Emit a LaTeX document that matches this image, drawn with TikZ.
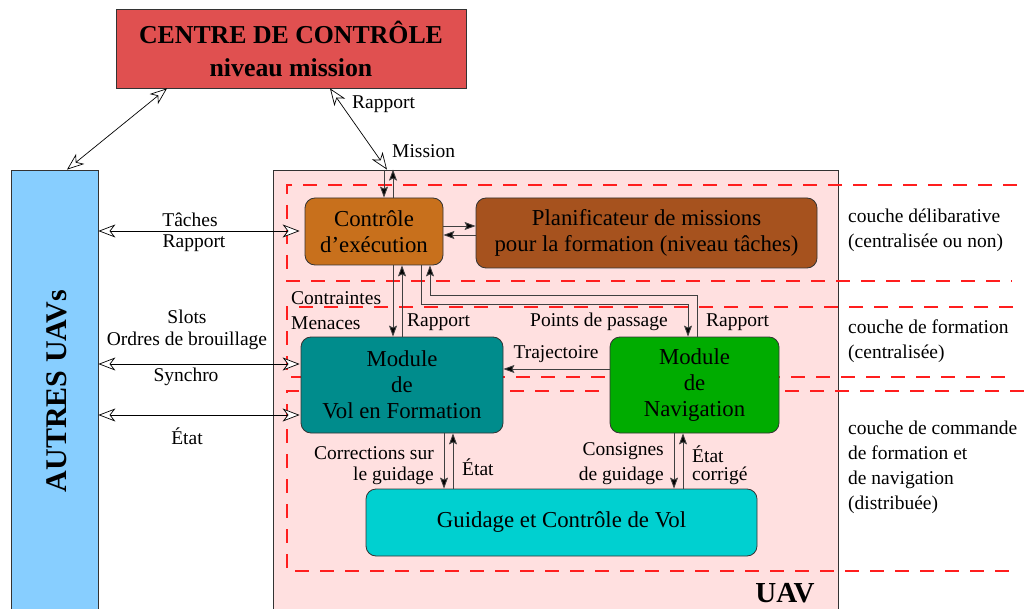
\documentclass[tikz,border=0pt]{standalone}
\usepackage{fontspec}
\setmainfont{Liberation Serif}
\usetikzlibrary{arrows.meta,calc}
\definecolor{centrec}{RGB}{224,80,80}
\definecolor{autresc}{RGB}{135,206,255}
\definecolor{uavc}{RGB}{255,224,224}
\definecolor{ctrlc}{RGB}{200,112,28}
\definecolor{planc}{RGB}{166,82,30}
\definecolor{volc}{RGB}{0,140,140}
\definecolor{navc}{RGB}{0,172,0}
\definecolor{guidc}{RGB}{0,208,208}
\definecolor{dashc}{RGB}{255,30,30}
\begin{document}
\begin{tikzpicture}[x=1pt,y=-1pt,
  box/.style={draw=black!80, line width=0.8pt, rounded corners=10pt, align=center, inner sep=0pt, font=\fontsize{22.8}{26}\selectfont},
  bigbox/.style={draw=black!80, line width=0.8pt, inner sep=0pt},
  lbl/.style={font=\fontsize{19.5}{24}\selectfont, inner sep=0pt},
  side/.style={font=\fontsize{19.5}{24.8}\selectfont, inner sep=0pt, align=left, anchor=north west},
  dbl/.style={draw=black, line width=0.7pt, {Stealth[fill=white,length=17pt,width=13pt,inset=5pt]}-{Stealth[fill=white,length=17pt,width=13pt,inset=5pt]}},
  sarr/.style={draw=black!75, line width=0.9pt, -{Stealth[length=11pt,width=8pt,inset=2pt,fill=black]}},
  layer/.style={draw=dashc, line width=1.6pt, dash pattern=on 14pt off 11pt},
]
\useasboundingbox (0,0) rectangle (1024,609);

% big containers
\node[bigbox, fill=uavc, minimum width=565pt, minimum height=445pt] (uav) at (555.5,392.5) {};
\node[bigbox, fill=autresc, minimum width=87pt, minimum height=442pt] (autres) at (54.5,391) {};
\node[rotate=90, inner sep=0pt, font=\bfseries\fontsize{30}{30}\selectfont] (autrestxt) at (57,391) {AUTRES UAVs};
\node[bigbox, fill=centrec, minimum width=350pt, minimum height=79pt, align=center] (centre) at (291,48.5) {};
\node[inner sep=0pt, font=\bfseries\fontsize{25.8}{33}\selectfont, align=center] (centretxt) at (291,49) {CENTRE DE CONTRÔLE\\niveau mission};

% layers (dashed)
\draw[layer] (1017,185) -- (287,185) -- (287,281) -- (1012,281);
\draw[layer] (1013,307) -- (287,307) -- (287,377) -- (1012,377);
\draw[layer] (1024,391) -- (287,391) -- (287,571) -- (1012,571);

% inner boxes
\node[box, fill=ctrlc, minimum width=138pt, minimum height=67pt] (ctrl) at (374,231.5) {Contrôle\\d’exécution};
\node[box, fill=planc, minimum width=341pt, minimum height=70pt] (plan) at (646.5,233) {Planificateur de missions\\pour la formation (niveau tâches)};
\node[box, fill=volc, minimum width=202pt, minimum height=96pt] (vol) at (402,385) {Module\\de\\Vol en Formation};
\node[box, fill=navc, minimum width=169pt, minimum height=96pt] (nav) at (694.5,385) {Module\\de\\Navigation};
\node[box, fill=guidc, minimum width=391pt, minimum height=67pt] (guid) at (561.5,522.5) {Guidage et Contrôle de Vol};

\node[inner sep=0pt, font=\bfseries\fontsize{29}{29}\selectfont] (uavtxt) at (785,593) {UAV};

% external arrows
\draw[dbl] (167,0 |- centre.south) -- (67,0 |- autres.north);
\draw[dbl] (330,0 |- centre.south) -- (387,0 |- uav.north);
\draw[dbl] (autres.east |- 0,231) -- ([xshift=-5pt]ctrl.west |- 0,231);
\draw[dbl] (autres.east |- 0,364) -- ([xshift=-1pt]vol.west |- 0,364);
\draw[dbl] (autres.east |- 0,415) -- ([xshift=-1pt]vol.west |- 0,415);

% internal arrows
\draw[sarr] (384,0 |- uav.north) -- (384,0 |- ctrl.north);
\draw[sarr] (393,0 |- ctrl.north) -- (393,0 |- uav.north);
\draw[sarr] (ctrl.east |- 0,226) -- (plan.west |- 0,226);
\draw[sarr] (plan.west |- 0,235) -- (ctrl.east |- 0,235);
\draw[sarr] (393,0 |- ctrl.south) -- (393,0 |- vol.north);
\draw[sarr] (402,0 |- vol.north) -- (402,0 |- ctrl.south);
\draw[sarr] (421,0 |- ctrl.south) -- (421,304) -- (688,304) -- (688,0 |- nav.north);
\draw[sarr] (697,0 |- nav.north) -- (697,295) -- (430,295) -- (430,0 |- ctrl.south);
\draw[sarr] (nav.west |- 0,369) -- (vol.east |- 0,369);
\draw[sarr] (444,0 |- vol.south) -- (444,0 |- guid.north);
\draw[sarr] (453,0 |- guid.north) -- (453,0 |- vol.south);
\draw[sarr] (674,0 |- nav.south) -- (674,0 |- guid.north);
\draw[sarr] (683,0 |- guid.north) -- (683,0 |- nav.south);

% labels
\node[lbl, anchor=west] (lrap0) at (352,104) {Rapport};
\node[lbl, anchor=west] (lmis) at (392,151) {Mission};
\node[lbl] (ltac) at (190,220) {Tâches};
\node[lbl] (lrap1) at (194,243) {Rapport};
\node[lbl] (lslots) at (187,317) {Slots};
\node[lbl] (lordres) at (187,341) {Ordres de brouillage};
\node[lbl] (lsync) at (186,377) {Synchro};
\node[lbl] (letat0) at (187,436) {État};
\node[lbl, anchor=west] (lcont) at (291,298) {Contraintes};
\node[lbl, anchor=west] (lmen) at (291,323) {Menaces};
\node[lbl, anchor=west] (lrap2) at (407,322) {Rapport};
\node[lbl] (lpts) at (599,322) {Points de passage};
\node[lbl, anchor=west] (lrap3) at (706,322) {Rapport};
\node[lbl] (ltraj) at (556,354) {Trajectoire};
\node[lbl, anchor=east] (lcorr) at (434,453) {Corrections sur};
\node[lbl, anchor=east] (lguid) at (434,476) {le guidage};
\node[lbl, anchor=west] (letat1) at (462,467) {État};
\node[lbl, anchor=east] (lcons) at (664,451) {Consignes};
\node[lbl, anchor=east] (ldeg) at (664,476) {de guidage};
\node[lbl, anchor=west] (letat2) at (692,454) {État};
\node[lbl, anchor=west] (lcorrige) at (692,476) {corrigé};

% layer names
\node[side] (s1) at (848,209) {couche délibarative\\(centralisée ou non)};
\node[side] (s2) at (848,320) {couche de formation\\(centralisée)};
\node[side] (s3) at (848,421) {couche de commande\\de formation et\\de navigation\\(distribuée)};
\end{tikzpicture}
\end{document}
